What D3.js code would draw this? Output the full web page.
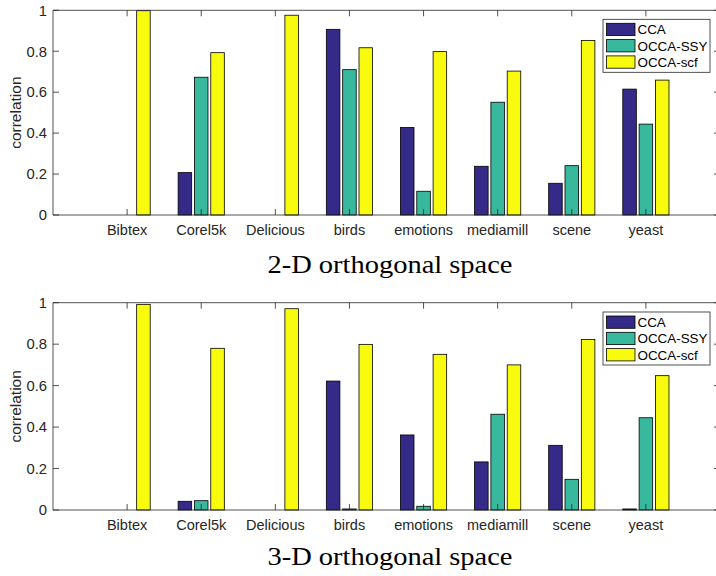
<!DOCTYPE html>
<html lang="en">
<head>
    <meta charset="UTF-8">
    <title>correlation bars</title>
    <script src="https://cdn.jsdelivr.net/npm/d3@7"></script>
    <style>
        body, html {
            margin: 0;
            padding: 0;
            background: #fff;
            overflow: hidden;
        }
        svg { display: block; }
    </style>
</head>
<body>
    <svg id="mainsvg"></svg>
    <script>
        // data
        const categories = ["Bibtex", "Corel5k", "Delicious", "birds", "emotions", "mediamill", "scene", "yeast"];
        const seriesNames = ["CCA", "OCCA-SSY", "OCCA-scf"];
        const cca2d = [0, 0.207, 0, 0.907, 0.428, 0.238, 0.155, 0.615];
        const ssy2d = [0, 0.673, 0, 0.710, 0.116, 0.551, 0.241, 0.444];
        const scf2d = [0.998, 0.793, 0.976, 0.817, 0.798, 0.703, 0.853, 0.659];
        const cca3d = [0, 0.042, 0, 0.622, 0.362, 0.232, 0.312, 0.005];
        const ssy3d = [0, 0.045, 0, 0.005, 0.018, 0.462, 0.148, 0.445];
        const scf3d = [0.992, 0.780, 0.971, 0.799, 0.751, 0.700, 0.823, 0.648];
        const yTicks = [0, 0.2, 0.4, 0.6, 0.8, 1];
        const titles = ["2-D orthogonal space", "3-D orthogonal space"];

        const colors = ["#352a87", "#38b99e", "#f9fb0e"];
        const axisColor = "#262626";
        const sans = "Liberation Sans, Arial, sans-serif";

        const width = 716, height = 576;
        const svg = d3.select("#mainsvg")
            .attr("width", width)
            .attr("height", height);

        function panel(values, top, bottom, legendTop, title, titleY) {
            const g = svg.append("g");
            const x = d3.scaleLinear().domain([0, 9]).range([53, 720]);
            const y = d3.scaleLinear().domain([0, 1]).range([bottom, top]);
            const xs = d3.scaleBand().domain(seriesNames).range([-23.1, 23.1]).paddingInner(0.17);

            const rows = [];
            seriesNames.forEach((s, si) => {
                values[si].forEach((v, ci) => rows.push({s, si, ci, v}));
            });

            g.append("g")
                .selectAll("rect")
                .data(rows)
                .join("rect")
                .attr("x", d => x(d.ci + 1) + xs(d.s))
                .attr("width", xs.bandwidth())
                .attr("y", d => y(d.v))
                .attr("height", d => y(0) - y(d.v))
                .attr("fill", d => colors[d.si])
                .attr("stroke", "#000")
                .attr("stroke-width", 0.8);

            // box
            g.append("path")
                .attr("d", `M720,${top}H53V${bottom}H720`)
                .attr("fill", "none")
                .attr("stroke", axisColor)
                .attr("stroke-width", 0.8);

            // x ticks (inward, top & bottom)
            const xt = d3.range(1, categories.length + 1);
            g.append("g").selectAll("path")
                .data(xt)
                .join("path")
                .attr("d", d => `M${x(d)},${bottom}v-6M${x(d)},${top}v6`)
                .attr("stroke", axisColor)
                .attr("stroke-width", 0.8);
            g.append("g").selectAll("text")
                .data(categories)
                .join("text")
                .attr("x", (d, i) => x(i + 1))
                .attr("y", bottom + 20)
                .attr("text-anchor", "middle")
                .attr("font-family", sans)
                .attr("font-size", 14.5)
                .attr("fill", axisColor)
                .text(d => d);

            // y ticks
            g.append("g").selectAll("path")
                .data(yTicks)
                .join("path")
                .attr("d", d => `M53,${y(d)}h6M720,${y(d)}h-6`)
                .attr("stroke", axisColor)
                .attr("stroke-width", 0.8);
            g.append("g").selectAll("text")
                .data(yTicks)
                .join("text")
                .attr("x", 47)
                .attr("y", d => y(d) + 5.3)
                .attr("text-anchor", "end")
                .attr("font-family", sans)
                .attr("font-size", 14.8)
                .attr("fill", axisColor)
                .text(d => d3.format("~g")(d));

            g.append("text")
                .attr("transform", `translate(21,${(top + bottom) / 2}) rotate(-90)`)
                .attr("text-anchor", "middle")
                .attr("font-family", sans)
                .attr("font-size", 15.5)
                .attr("fill", axisColor)
                .text("correlation");

            // legend
            const lg = g.append("g").attr("transform", `translate(603,${legendTop})`);
            lg.append("rect")
                .attr("width", 107).attr("height", 53)
                .attr("fill", "#fff")
                .attr("stroke", axisColor)
                .attr("stroke-width", 0.8);
            seriesNames.forEach((s, i) => {
                lg.append("rect")
                    .attr("x", 3.5).attr("y", 4 + i * 16.3)
                    .attr("width", 28.5).attr("height", 12.3)
                    .attr("fill", colors[i])
                    .attr("stroke", "#000")
                    .attr("stroke-width", 0.8);
                lg.append("text")
                    .attr("x", 34.5).attr("y", 15 + i * 16.3)
                    .attr("font-family", sans)
                    .attr("font-size", 13.4)
                    .attr("fill", "#000")
                    .text(s);
            });

            svg.append("text")
                .attr("x", 390)
                .attr("y", titleY)
                .attr("text-anchor", "middle")
                .attr("font-family", "Liberation Serif, Times New Roman, serif")
                .attr("font-size", 25)
                .attr("textLength", 245)
                .attr("lengthAdjust", "spacingAndGlyphs")
                .attr("fill", "#000")
                .text(title);
        }

        panel([cca2d, ssy2d, scf2d], 10.3, 215, 19.3, titles[0], 273);
        panel([cca3d, ssy3d, scf3d], 302.7, 510, 312, titles[1], 565);
    </script>
</body>
</html>
